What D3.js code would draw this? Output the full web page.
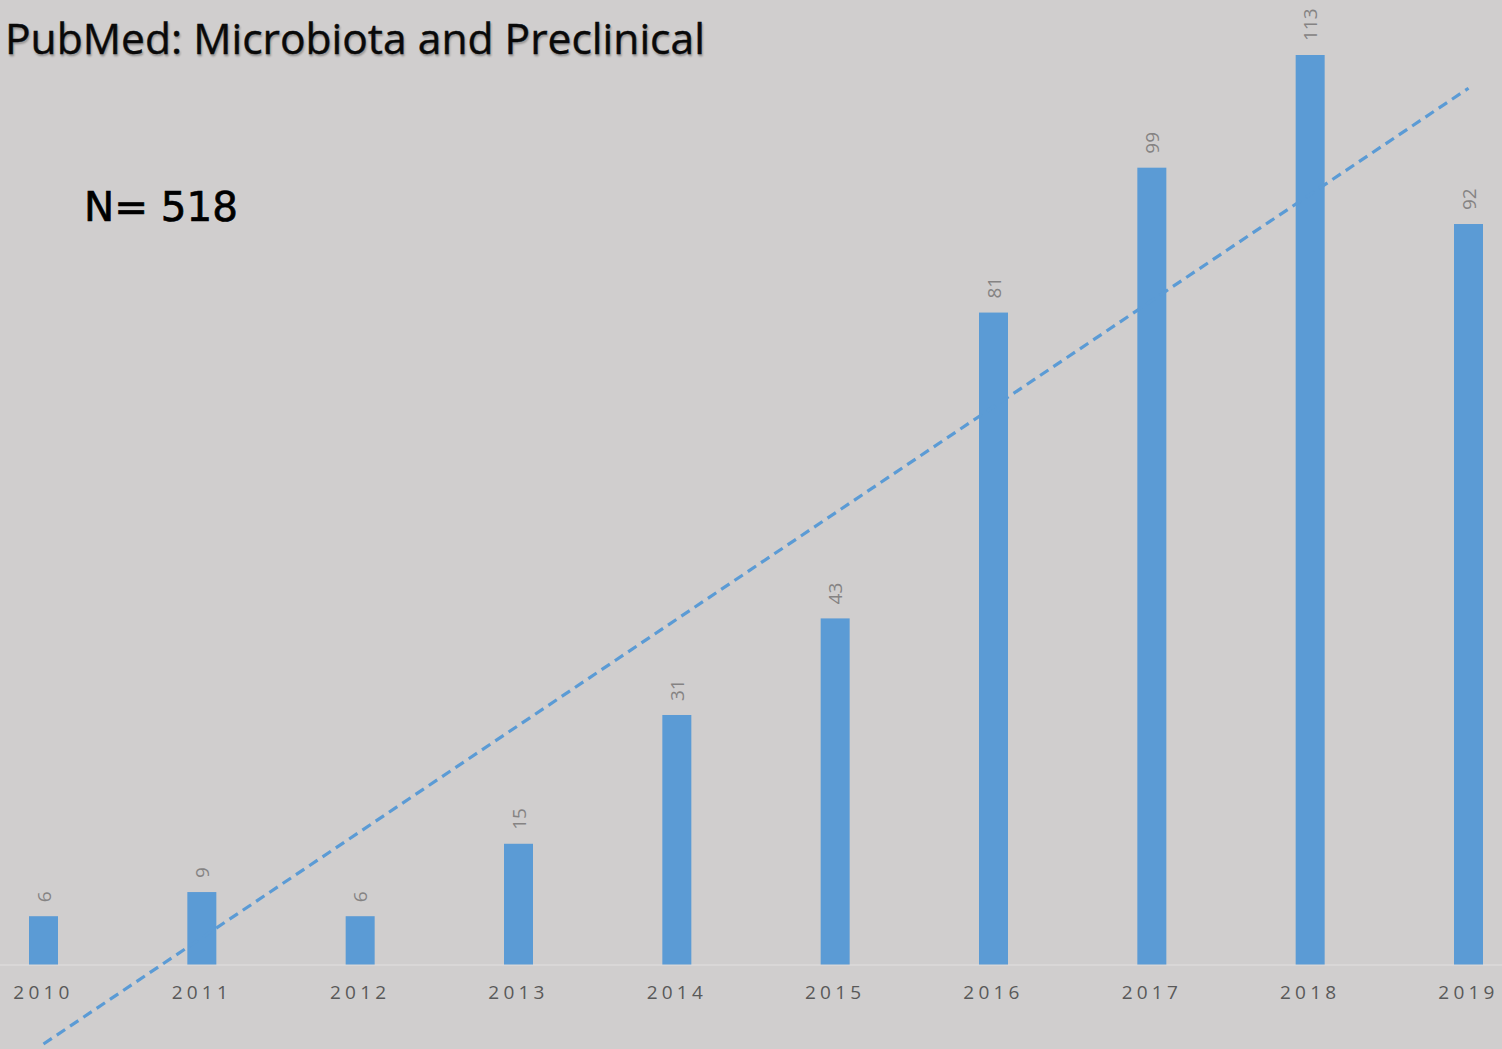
<!DOCTYPE html>
<html>
<head>
<meta charset="utf-8">
<script src="https://cdn.jsdelivr.net/npm/d3@7"></script>
<style>
  html, body { margin: 0; padding: 0; background: #d0cece; }
  svg { display: block; }
</style>
</head>
<body>
<svg id="chart" width="1502" height="1049"></svg>
<script>
// Publications per year
const years = ["2010","2011","2012","2013","2014","2015","2016","2017","2018","2019"];
const counts = [6, 9, 6, 15, 31, 43, 81, 99, 113, 92];
const titleText = "PubMed: Microbiota and Preclinical";
const totalLabel = "N= 518";

const W = 1502, H = 1049;
const svg = d3.select("#chart");

svg.append("rect").attr("width", W).attr("height", H).attr("fill", "#d0cece");

const x = d3.scalePoint().domain(years).range([43.5, 1468.5]);
const y = d3.scaleLinear().domain([0, 113]).range([964.5, 55]);
const barW = 29;
const blue = "#5b9bd5";

// Baseline
svg.append("line")
  .attr("x1", 0).attr("x2", W)
  .attr("y1", y(0) + 0.5).attr("y2", y(0) + 0.5)
  .attr("stroke", "#e2e0e0").attr("stroke-width", 1);

// Bars
svg.append("g").selectAll("rect")
  .data(years.map((yr, i) => ({ yr, v: counts[i] })))
  .join("rect")
  .attr("x", d => x(d.yr) - barW / 2)
  .attr("y", d => y(d.v))
  .attr("width", barW)
  .attr("height", d => y(0) - y(d.v))
  .attr("fill", blue);

// Value labels, rotated
svg.append("g").selectAll("text")
  .data(years.map((yr, i) => ({ yr, v: counts[i] })))
  .join("text")
  .attr("transform", d => `translate(${x(d.yr) + 7},${y(d.v) - 14}) rotate(-90)`)
  .attr("text-anchor", "start")
  .attr("font-family", "Open Sans, sans-serif")
  .attr("font-size", 19)
  .attr("fill", "#858383")
  .text(d => d.v);

// Year labels
svg.append("g").selectAll("text")
  .data(years)
  .join("text")
  .attr("x", d => x(d))
  .attr("y", 999)
  .attr("text-anchor", "middle")
  .attr("font-family", "Open Sans, sans-serif")
  .attr("font-size", 19)
  .attr("letter-spacing", 4.2)
  .attr("fill", "#595959")
  .text(d => d);

// Linear trendline (least squares over year index)
const n = counts.length;
const xs = d3.range(1, n + 1);
const mx = d3.mean(xs), my = d3.mean(counts);
const slope = d3.sum(xs, (xi, i) => (xi - mx) * (counts[i] - my)) / d3.sum(xs, xi => (xi - mx) ** 2);
const icpt = my - slope * mx;
const trend = [
  { yr: years[0], v: icpt + slope * 1 },
  { yr: years[n - 1], v: icpt + slope * n }
];
svg.append("path")
  .datum(trend)
  .attr("d", d3.line().x(d => x(d.yr)).y(d => y(d.v)))
  .attr("fill", "none")
  .attr("stroke", blue)
  .attr("stroke-width", 3.2)
  .attr("stroke-dasharray", "10,6");

// Title
const title = svg.append("text")
  .attr("x", 5).attr("y", 54)
  .attr("font-family", "Open Sans, sans-serif")
  .attr("font-size", 42)
  .attr("fill", "#0a0a0a")
  .attr("stroke", "#0a0a0a")
  .attr("stroke-width", 0.4)
  .style("text-shadow", "1px 2px 2px rgba(0,0,0,0.25)")
  .text(titleText);
const tw = title.node().getComputedTextLength();
title.attr("font-size", 42 * 700 / tw);

// Total count
const total = svg.append("text")
  .attr("x", 84).attr("y", 221)
  .attr("font-family", "DejaVu Sans, sans-serif")
  .attr("font-size", 52)
  .attr("fill", "#000")
  .attr("stroke", "#000")
  .attr("stroke-width", 0.7)
  .text(totalLabel);
const nw = total.node().getComputedTextLength();
total.attr("font-size", 52 * 154 / nw);
</script>
</body>
</html>
